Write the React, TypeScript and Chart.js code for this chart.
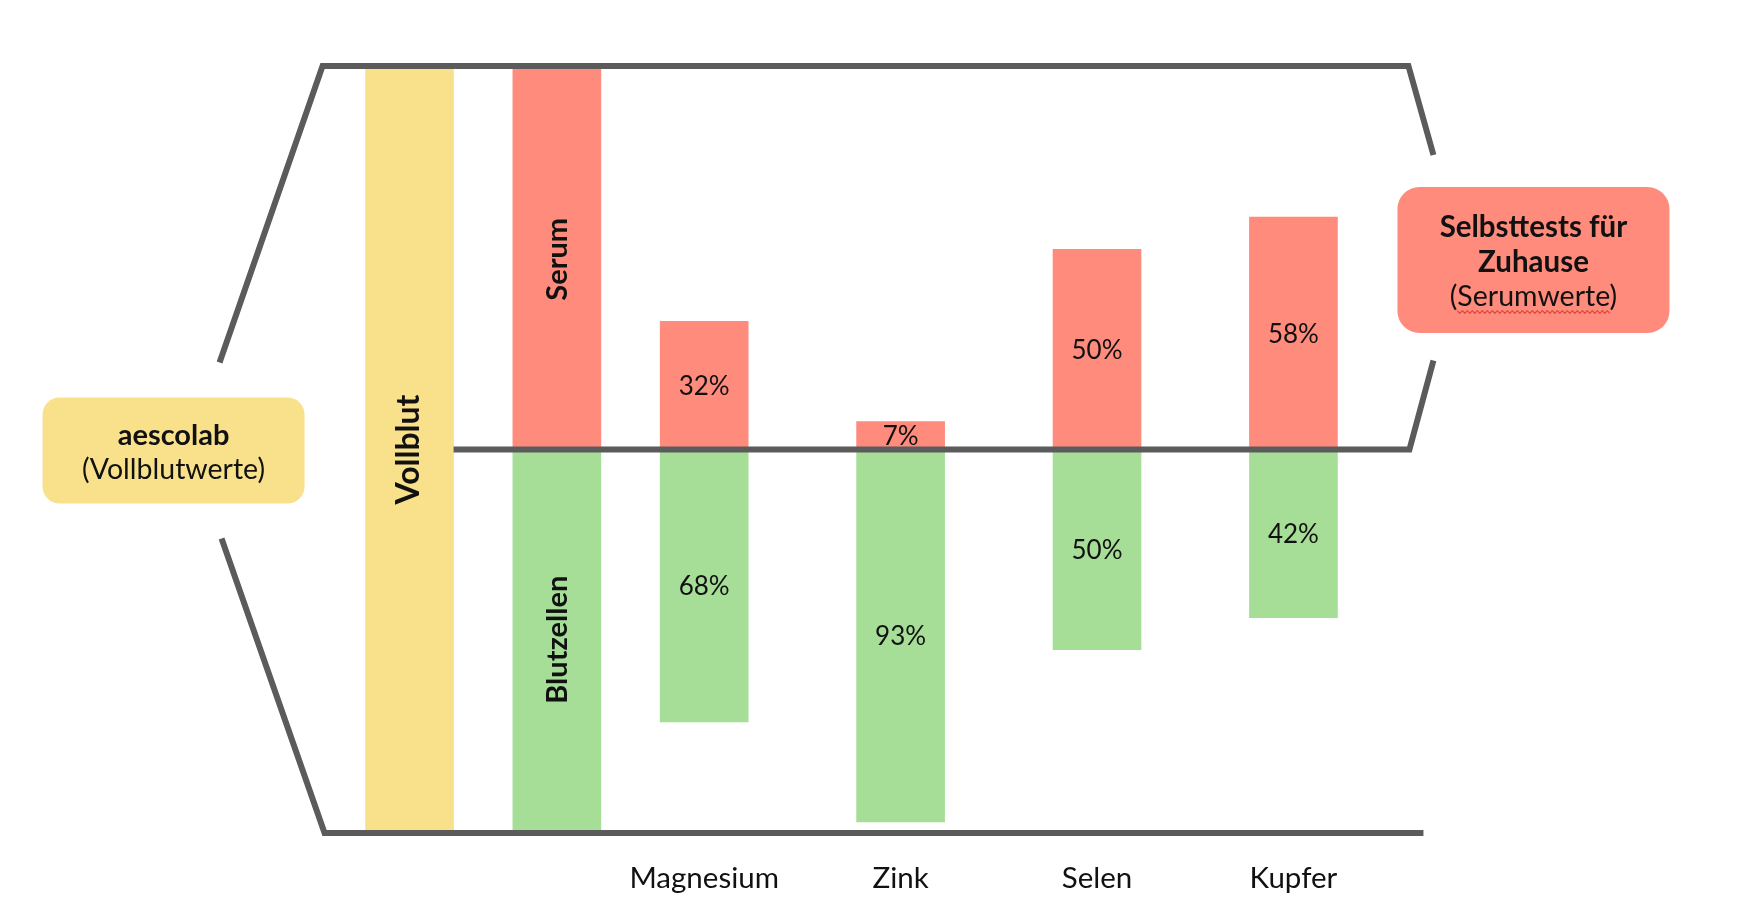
import { useEffect, useRef } from "react";
import { Chart, registerables } from "chart.js";

Chart.register(...registerables);

// ---- data ----
const minerals = ["Magnesium", "Zink", "Selen", "Kupfer"];
const serumPercent = [32, 7, 50, 58];
const cellPercent = [68, 93, 50, 42];
const fullShare = 100;
const wholeBloodLabel = "Vollblut";
const serumLabel = "Serum";
const cellLabel = "Blutzellen";
const leftBoxLines = ["aescolab"];
const leftBoxSub = "(Vollblutwerte)";
const rightBoxLines = ["Selbsttests für", "Zuhause"];
const rightBoxSub = "(Serumwerte)";

// ---- layout (category slots) ----
const SLOT_COUNT = 19;
const VOLLBLUT_SLOT = 0;
const SPLIT_SLOT = 3;
const MINERAL_SLOTS = [6, 10, 14, 18];

const RED = "#FE8B7C";
const GREEN = "#A6DE97";
const YELLOW = "#F9E18B";
const LINE = "#5B5B5B";
const TEXT = "#111111";
const FONT = "Lato, 'Open Sans', sans-serif";

function buildLabels() {
  const l: string[] = new Array(SLOT_COUNT).fill("");
  MINERAL_SLOTS.forEach((s, i) => (l[s] = minerals[i]));
  return l;
}

function buildVollblut() {
  const d: any[] = new Array(SLOT_COUNT).fill(null);
  d[VOLLBLUT_SLOT] = [-fullShare, fullShare];
  return d;
}
function buildSerum() {
  const d: any[] = new Array(SLOT_COUNT).fill(null);
  d[SPLIT_SLOT] = fullShare;
  MINERAL_SLOTS.forEach((s, i) => (d[s] = serumPercent[i]));
  return d;
}
function buildCells() {
  const d: any[] = new Array(SLOT_COUNT).fill(null);
  d[SPLIT_SLOT] = -fullShare;
  MINERAL_SLOTS.forEach((s, i) => (d[s] = -cellPercent[i]));
  return d;
}

const framePlugin = {
  id: "frame",
  afterDraw(chart: any) {
    const ctx: CanvasRenderingContext2D = chart.ctx;
    const ca = chart.chartArea;
    const xs = chart.scales.x;
    const ys = chart.scales.y;
    const lw = 6;
    const yTop = ca.top - lw / 2;
    const yMid = ys.getPixelForValue(0);
    const yBot = ca.bottom + lw / 2;
    const xV = xs.getPixelForValue(VOLLBLUT_SLOT);
    const xLast = xs.getPixelForValue(MINERAL_SLOTS[MINERAL_SLOTS.length - 1]);
    const half = 44;

    ctx.save();
    // ---- bar labels ----
    ctx.fillStyle = TEXT;
    ctx.textAlign = "center";
    ctx.textBaseline = "middle";
    const serumMeta = chart.getDatasetMeta(1);
    const cellMeta = chart.getDatasetMeta(2);
    const vMeta = chart.getDatasetMeta(0);
    ctx.font = `26px ${FONT}`;
    MINERAL_SLOTS.forEach((s, i) => {
      const e1 = serumMeta.data[s];
      const e2 = cellMeta.data[s];
      ctx.fillText(`${serumPercent[i]}%`, e1.x, (e1.y + e1.base) / 2 + 1);
      ctx.fillText(`${cellPercent[i]}%`, e2.x, (e2.y + e2.base) / 2 + 1);
    });
    const rot = (txt: string, x: number, y: number, size: number) => {
      ctx.save();
      ctx.translate(x, y);
      ctx.rotate(-Math.PI / 2);
      ctx.font = `bold ${size}px ${FONT}`;
      ctx.fillText(txt, 0, 0);
      ctx.restore();
    };
    {
      const e = serumMeta.data[SPLIT_SLOT];
      const top = Math.max(e.y, ca.top);
      rot(serumLabel, e.x + 1, (top + e.base) / 2, 29);
      const c = cellMeta.data[SPLIT_SLOT];
      const bot = Math.min(c.y, ca.bottom);
      rot(cellLabel, c.x + 1, (bot + c.base) / 2, 29);
      const v = vMeta.data[VOLLBLUT_SLOT];
      rot(wholeBloodLabel, v.x - 1, (ca.top + ca.bottom) / 2, 32);
    }

    // ---- frame lines ----
    ctx.strokeStyle = LINE;
    ctx.lineWidth = lw;
    ctx.lineJoin = "miter";
    ctx.lineCap = "butt";
    ctx.beginPath();
    ctx.moveTo(xV - 190, yMid - 87);
    ctx.lineTo(xV - 87, yTop);
    ctx.lineTo(xLast + 115, yTop);
    ctx.lineTo(xLast + 140, yTop + 89);
    ctx.stroke();
    ctx.beginPath();
    ctx.moveTo(xV + half, yMid);
    ctx.lineTo(xLast + 116, yMid);
    ctx.lineTo(xLast + 140, yMid - 89);
    ctx.stroke();
    ctx.beginPath();
    ctx.moveTo(xV - 188, yMid + 89);
    ctx.lineTo(xV - 85, yBot);
    ctx.lineTo(xLast + 130, yBot);
    ctx.stroke();

    // ---- boxes ----
    const box = (x: number, y: number, w: number, h: number, r: number, fill: string) => {
      ctx.beginPath();
      (ctx as any).roundRect(x, y, w, h, r);
      ctx.fillStyle = fill;
      ctx.fill();
    };
    // left box
    const lx = xV - 367, ly = yMid - 52, lwid = 262, lh = 106;
    box(lx, ly, lwid, lh, 17, YELLOW);
    ctx.fillStyle = TEXT;
    ctx.font = `bold 29px ${FONT}`;
    ctx.fillText(leftBoxLines[0], lx + lwid / 2, ly + 38);
    ctx.font = `28.5px ${FONT}`;
    ctx.fillText(leftBoxSub, lx + lwid / 2, ly + 72);

    // right box
    const rx = xLast + 104, ry = yTop + 121, rw = 272, rh = 146;
    box(rx, ry, rw, rh, 22, RED);
    ctx.fillStyle = TEXT;
    const cx = rx + rw / 2;
    ctx.font = `bold 29.5px ${FONT}`;
    ctx.fillText(rightBoxLines[0], cx, ry + 40);
    ctx.fillText(rightBoxLines[1], cx, ry + 75);
    ctx.font = `28.5px ${FONT}`;
    const subY = ry + 110;
    ctx.fillText(rightBoxSub, cx, subY);
    // spellcheck-like wavy underline under the word
    const total = ctx.measureText(rightBoxSub).width;
    const open = ctx.measureText("(").width;
    const word = ctx.measureText(rightBoxSub.slice(1, -1)).width;
    const sx = cx - total / 2 + open;
    const wy = subY + 15;
    ctx.strokeStyle = "#E0463A";
    ctx.lineWidth = 1.2;
    ctx.lineJoin = "round";
    ctx.beginPath();
    let k = 0;
    for (let x = sx; x <= sx + word; x += 2.5) {
      const yy = wy + (k % 2 === 0 ? -1.3 : 1.3);
      if (k === 0) ctx.moveTo(x, yy);
      else ctx.lineTo(x, yy);
      k++;
    }
    ctx.stroke();
    ctx.restore();
  },
};

export default function App() {
  const ref = useRef<HTMLCanvasElement | null>(null);
  useEffect(() => {
    if (!ref.current) return;
    const clip = { left: 500, right: 500, top: 0, bottom: 0 };
    const chart = new Chart(ref.current, {
      type: "bar",
      data: {
        labels: buildLabels(),
        datasets: [
          { label: wholeBloodLabel, data: buildVollblut(), backgroundColor: YELLOW, clip } as any,
          { label: serumLabel, data: buildSerum(), backgroundColor: RED, clip } as any,
          { label: cellLabel, data: buildCells(), backgroundColor: GREEN, clip } as any,
        ],
      },
      options: {
        animation: false,
        responsive: true,
        maintainAspectRatio: false,
        layout: { padding: { left: 385, right: 422, top: 69, bottom: 0 } },
        datasets: { bar: { grouped: false, barThickness: 88, borderWidth: 0 } } as any,
        plugins: {
          legend: { display: false },
          tooltip: { enabled: false },
        },
        scales: {
          x: {
            type: "category",
            offset: true,
            grid: { display: false, drawTicks: false },
            border: { display: false },
            afterFit: (scale: any) => {
              scale.height = 94;
            },
            ticks: {
              autoSkip: false,
              maxRotation: 0,
              minRotation: 0,
              padding: 31,
              color: TEXT,
              font: { family: FONT, size: 29.5 },
            },
          },
          y: { display: false, min: -95, max: 95 },
        },
      },
      plugins: [framePlugin],
    });
    return () => chart.destroy();
  }, []);
  return (
    <div style={{ position: "fixed", left: 0, top: 0, width: 1740, height: 924, background: "#fff" }}>
      <canvas ref={ref} />
    </div>
  );
}
